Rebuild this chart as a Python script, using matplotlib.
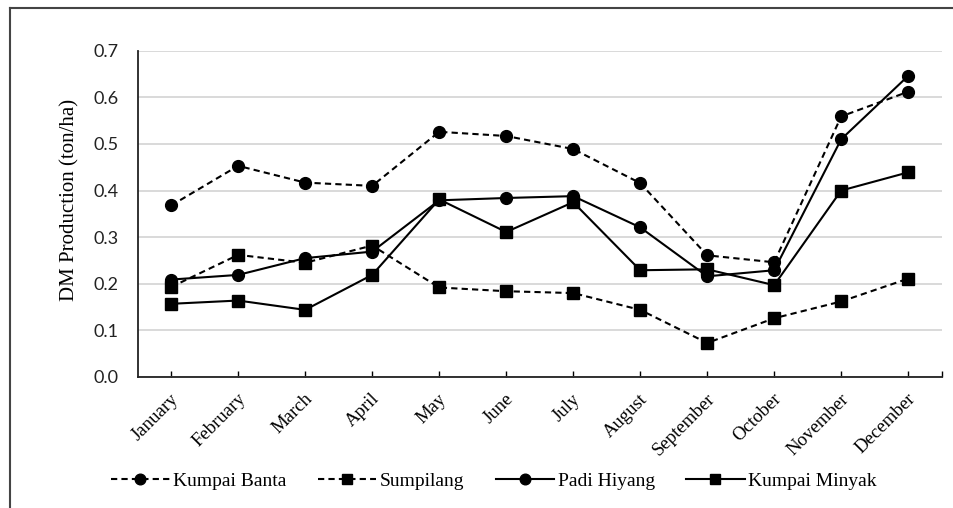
import numpy as np
import matplotlib.pyplot as plt
from matplotlib.lines import Line2D
from matplotlib.transforms import ScaledTranslation

# datos
meses = ['January', 'February', 'March', 'April', 'May', 'June', 'July',
         'August', 'September', 'October', 'November', 'December']
kumpai_banta = [0.368, 0.453, 0.417, 0.410, 0.526, 0.517, 0.489, 0.416, 0.261, 0.246, 0.559, 0.612]
sumpilang = [0.193, 0.262, 0.245, 0.282, 0.192, 0.184, 0.180, 0.144, 0.073, 0.126, 0.162, 0.211]
padi_hiyang = [0.209, 0.219, 0.255, 0.269, 0.379, 0.384, 0.388, 0.321, 0.216, 0.229, 0.510, 0.646]
kumpai_minyak = [0.157, 0.164, 0.144, 0.219, 0.381, 0.311, 0.375, 0.229, 0.231, 0.197, 0.400, 0.439]
y_ticks = [0.0, 0.1, 0.2, 0.3, 0.4, 0.5, 0.6, 0.7]

serif = 'Liberation Serif'

fig = plt.figure(figsize=(9.54, 5.08), dpi=100)
ax = fig.add_axes([0.1443, 0.2579, 0.8428, 0.6423])

x = np.arange(len(meses))
estilo = dict(color='black', linewidth=1.5, markersize=8.5)
ax.plot(x, kumpai_banta, linestyle=(0, (3, 2)), marker='o', label='Kumpai Banta', **estilo)
ax.plot(x, sumpilang, linestyle=(0, (3, 2)), marker='s', label='Sumpilang', **estilo)
ax.plot(x, padi_hiyang, linestyle='-', marker='o', label='Padi Hiyang', **estilo)
ax.plot(x, kumpai_minyak, linestyle='-', marker='s', label='Kumpai Minyak', **estilo)

ax.set_xlim(-0.5, len(meses) - 0.5)
ax.set_ylim(0, 0.7)
ax.set_yticks(y_ticks)
ax.set_yticklabels([f'{v:.1f}' for v in y_ticks], family='Lato', fontsize=13, color='#222222')
ax.tick_params(axis='y', length=0, pad=14)
ax.grid(axis='y', color='#d9d9d9', linewidth=1.4)
ax.set_axisbelow(True)

ax.set_xticks(x)
ax.set_xticks([len(meses) - 0.5], minor=True)
ax.set_xticklabels(meses, rotation=45, ha='right', va='center', rotation_mode='anchor',
                   family=serif, fontsize=13.5)
ax.tick_params(axis='x', which='both', direction='in', length=4, width=1, pad=14)
# desplazar un poco a la derecha las etiquetas de los meses
desplazamiento = ScaledTranslation(5 / 100, 0, fig.dpi_scale_trans)
for etiqueta in ax.get_xticklabels():
    etiqueta.set_transform(etiqueta.get_transform() + desplazamiento)

for s in ['top', 'right']:
    ax.spines[s].set_visible(False)
for s in ['left', 'bottom']:
    ax.spines[s].set_linewidth(1.3)
    ax.spines[s].set_color('#222222')

ax.set_ylabel('DM Production (ton/ha)', family=serif, fontsize=15)
ax.yaxis.set_label_coords(-0.072, 0.542)

fig.legend(loc='center', bbox_to_anchor=(0.518, 0.053), ncol=4, frameon=False,
           prop={'family': serif, 'size': 14}, handlelength=3, handletextpad=0.2,
           columnspacing=1.6, markerscale=0.9)

# marco del recuadro
fig.add_artist(Line2D([10 / 954, 1], [1 - 8 / 508, 1 - 8 / 508], color='#444444', linewidth=1.5))
fig.add_artist(Line2D([10 / 954, 10 / 954], [0, 1 - 8 / 508], color='#444444', linewidth=1.5))

fig.savefig('out.png', dpi=100)
